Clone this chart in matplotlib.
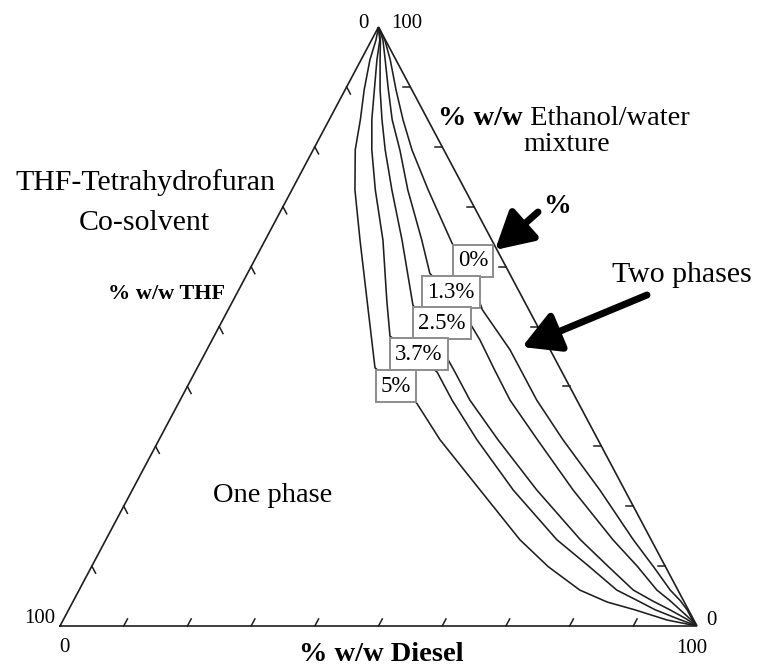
import matplotlib
matplotlib.use('Agg')
import matplotlib.pyplot as plt
import numpy as np

plt.rcParams['font.family'] = ['Liberation Serif', 'DejaVu Serif']

# composition along each boundary curve (% w/w)
labels = ['0%', '1.3%', '2.5%', '3.7%', '5%']

diesel_0 = [0, 2.1, 4.6, 8.0, 11.6, 15.5, 21.4, 29.6, 35.1, 39.9, 47.6, 56.0, 63.4, 73.4,
            82.8, 88.1, 92.8, 95.3, 97.1, 98.6, 100]
ethanol_0 = [100, 97.8, 94.5, 89.5, 84.5, 79.5, 72.8, 63.9, 58.6, 52.8, 46.1, 37.7, 31.1, 22.7,
             14.4, 10.0, 6.0, 4.2, 2.7, 1.2, 0]

diesel_13 = [0, 1.8, 3.8, 6.8, 9.9, 13.6, 18.2, 24.6, 28.6, 36.7, 42.1, 46.9, 51.8, 59.4,
             69.2, 79.6, 85.6, 90.7, 93.7, 96.0, 98.3, 100]
ethanol_13 = [100, 97.8, 94.5, 89.5, 84.5, 79.5, 72.8, 64.4, 58.9, 52.8, 47.7, 42.7, 37.7, 31.1,
              22.7, 14.4, 10.0, 6.0, 4.2, 2.7, 1.2, 0]

diesel_25 = [0, 1.4, 3.0, 5.5, 8.3, 11.3, 15.7, 21.5, 28.6, 36.2, 40.8, 45.5, 53.2, 63.5,
             74.5, 81.0, 87.0, 90.9, 94.4, 97.7, 100]
ethanol_25 = [100, 97.8, 94.5, 89.5, 84.5, 79.5, 72.8, 64.4, 53.6, 46.9, 42.4, 37.7, 31.1, 22.7,
              14.4, 10.0, 6.0, 4.2, 2.7, 1.2, 0]

diesel_37 = [0, 1.3, 2.5, 4.6, 6.7, 9.2, 13.1, 18.5, 24.1, 27.6, 38.0, 42.7, 49.9, 59.8,
             70.8, 78.0, 84.4, 88.4, 92.1, 96.4, 100]
ethanol_37 = [100, 97.8, 94.5, 89.5, 84.5, 79.5, 72.8, 64.4, 54.4, 48.4, 42.4, 37.7, 31.1, 22.7,
              14.4, 10.0, 6.0, 4.3, 2.7, 1.2, 0]

diesel_5 = [0, 0.7, 1.4, 3.0, 4.9, 6.6, 9.9, 14.9, 21.0, 27.9, 37.4, 44.1, 54.6, 65.0,
            71.7, 78.6, 83.9, 88.9, 94.8, 100]
ethanol_5 = [100, 97.8, 94.5, 89.5, 84.5, 79.5, 72.8, 64.4, 54.4, 43.1, 37.2, 31.1, 22.7, 14.4,
             9.9, 6.0, 4.0, 2.7, 1.0, 0]

tick_values = [10, 20, 30, 40, 50, 60, 70, 80, 90]

W, H = 761, 667
fig = plt.figure(figsize=(W / 100, H / 100), dpi=100)
ax = fig.add_axes([60 / W, 41 / H, 637 / W, 599 / H])
ax.set_xlim(0, 1)
ax.set_ylim(0, 1)
ax.axis('off')


def tern(d, e):
    # bottom-left = THF, bottom-right = diesel, top = ethanol/water
    d = np.asarray(d, float)
    e = np.asarray(e, float)
    return d / 100 + e / 200, e / 100


def fig_xy(x, y):
    return x / W, 1 - y / H


def ftext(x, y, s, **kw):
    fx, fy = fig_xy(x, y)
    return fig.text(fx, fy, s, **kw)


line_col = '#1e1e1e'

# triangle
ax.plot([0, 1, 0.5, 0], [0, 0, 1, 0], color=line_col, lw=1.2, solid_joinstyle='miter',
        clip_on=False)

# ticks (pixel lengths converted into data units)
sx, sy = 637.0, 599.0
L = 8.0
for t in tick_values:
    f = t / 100
    # bottom: parallel to left side
    v = np.array([321.0, 599.0]); v = v / np.hypot(*v) * L
    ax.plot([f, f + v[0] / sx], [0, v[1] / sy], color=line_col, lw=1.1, clip_on=False)
    # right side: horizontal, pointing inwards
    x0, y0 = 1 - 0.5 * f, f
    ax.plot([x0, x0 - 7 / sx], [y0, y0], color=line_col, lw=1.1, clip_on=False)
    # left side: parallel to right side
    x0, y0 = 0.5 * f, f
    v = np.array([316.0, -599.0]); v = v / np.hypot(*v) * L
    ax.plot([x0, x0 + v[0] / sx], [y0, y0 + v[1] / sy], color=line_col, lw=1.1,
            clip_on=False)

# boundary curves
curves = [(diesel_0, ethanol_0), (diesel_13, ethanol_13), (diesel_25, ethanol_25),
          (diesel_37, ethanol_37), (diesel_5, ethanol_5)]
for d, e in curves:
    x, y = tern(d, e)
    ax.plot(x, y, color=line_col, lw=1.15, solid_joinstyle='round', zorder=2)

# curve labels in boxes
box_centres = [(473, 261), (451, 292), (442, 323), (419, 354), (396, 386)]
for i, (lab, (bx, by)) in enumerate(zip(labels, box_centres)):
    ftext(bx, by, lab, fontsize=16.5, ha='center', va='center', zorder=5 + i,
          bbox=dict(boxstyle='square,pad=0.22', fc='white', ec='#8c8c8c', lw=1.4))

# corner numbers
num_fs = 15
ftext(363, 28, '0', fontsize=num_fs, ha='center', va='baseline')
ftext(407, 28, '100', fontsize=num_fs, ha='center', va='baseline')
ftext(40, 623, '100', fontsize=num_fs, ha='center', va='baseline')
ftext(64, 652, '0', fontsize=num_fs, ha='center', va='baseline')
ftext(711, 625, '0', fontsize=num_fs, ha='center', va='baseline')
ftext(692, 653, '100', fontsize=num_fs, ha='center', va='baseline')

# axis titles and annotations
ftext(381, 661, '% w/w Diesel', fontsize=20.5, fontweight='bold', ha='center', va='baseline')
t1 = ftext(438, 125, '% w/w', fontsize=20.5, fontweight='bold', ha='left', va='baseline')
fig.add_artist(plt.Annotation(' Ethanol/water', xy=(1, 0), xycoords=t1, fontsize=20.5,
                              ha='left', va='bottom'))
ftext(567, 151, 'mixture', fontsize=20, ha='center', va='baseline')
ftext(145, 190, 'THF-Tetrahydrofuran', fontsize=21.5, ha='center', va='baseline')
ftext(144, 230, 'Co-solvent', fontsize=21.5, ha='center', va='baseline')
ftext(167, 299, '% w/w THF', fontsize=16, fontweight='bold', ha='center', va='baseline')
ftext(273, 502, 'One phase', fontsize=20.5, ha='center', va='baseline')
ftext(682, 282, 'Two phases', fontsize=21.5, ha='center', va='baseline')
ftext(557, 213, '%', fontsize=20, fontweight='bold', ha='center', va='baseline')

arrow_kw = dict(arrowstyle='-|>,head_length=0.9,head_width=0.5', lw=5, color='black',
                mutation_scale=25, shrinkA=0, shrinkB=0)
fig.add_artist(plt.Annotation('', xy=fig_xy(495, 250), xytext=fig_xy(538, 212),
                              xycoords='figure fraction', textcoords='figure fraction',
                              arrowprops=arrow_kw))
fig.add_artist(plt.Annotation('', xy=fig_xy(522, 347), xytext=fig_xy(647, 295),
                              xycoords='figure fraction', textcoords='figure fraction',
                              arrowprops=arrow_kw))

fig.savefig('out.png', dpi=100, facecolor='white')
